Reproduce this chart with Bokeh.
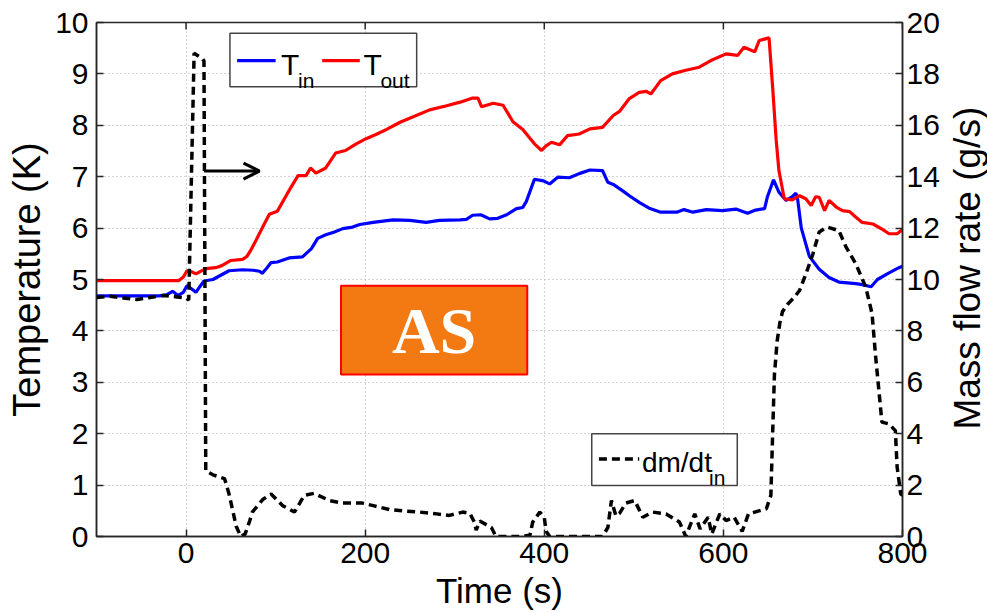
import math

from bokeh.plotting import figure
from bokeh.layouts import row
from bokeh.models import (Range1d, LinearAxis, FixedTicker, BoxAnnotation,
                          Label, Arrow, OpenHead)
from bokeh.embed import file_html
from bokeh.resources import INLINE

# ---- measured series -------------------------------------------------------
# inlet temperature T_in (K)
time_in = [-100, -60, -30, -22, -15, -9, -3, 1, 6, 11, 15, 20, 30, 48, 63, 75,
           82, 85, 90, 95, 102, 115, 130, 140, 147, 156, 165, 175, 186, 194,
           209, 231, 250, 268, 283, 306, 313, 320, 329, 339, 348, 358, 369,
           376, 380, 389, 399, 406, 415, 428, 439, 451, 465, 471, 477, 488,
           495, 506, 518, 530, 548, 556, 566, 581, 599, 614, 627, 636, 646,
           649, 656, 662, 670, 677, 681, 683, 687, 696, 707, 718, 729, 748,
           755, 765, 772, 785, 796, 800]
temp_in = [4.68, 4.68, 4.68, 4.70, 4.77, 4.69, 4.75, 4.88, 4.82, 4.75, 4.85,
           4.97, 5.00, 5.17, 5.19, 5.18, 5.16, 5.12, 5.22, 5.33, 5.34, 5.42,
           5.44, 5.60, 5.80, 5.87, 5.92, 5.99, 6.02, 6.07, 6.11, 6.16, 6.15,
           6.11, 6.15, 6.16, 6.17, 6.25, 6.26, 6.18, 6.19, 6.26, 6.38, 6.40,
           6.52, 6.95, 6.92, 6.86, 6.99, 6.98, 7.06, 7.13, 7.12, 6.89, 6.85,
           6.72, 6.63, 6.50, 6.38, 6.31, 6.31, 6.36, 6.31, 6.36, 6.34, 6.37,
           6.29, 6.35, 6.38, 6.60, 6.94, 6.70, 6.54, 6.61, 6.68, 6.55, 6.00,
           5.45, 5.20, 5.04, 4.95, 4.92, 4.90, 4.86, 5.00, 5.13, 5.23, 5.26]

# outlet temperature T_out (K)
time_out = [-100, -50, -8, -3, 1, 6, 11, 22, 33, 40, 50, 63, 68, 72, 78, 85,
            93, 102, 113, 125, 134, 139, 145, 156, 167, 178, 190, 201, 212,
            224, 239, 253, 272, 291, 306, 320, 326, 330, 343, 354, 365, 376,
            389, 397, 402, 408, 417, 426, 439, 451, 465, 477, 484, 495, 506,
            514, 519, 530, 543, 558, 573, 586, 603, 616, 623, 635, 640, 651,
            655, 659, 662, 668, 677, 685, 692, 698, 703, 707, 713, 718, 726,
            733, 741, 748, 755, 767, 778, 785, 794, 800]
temp_out = [4.98, 4.98, 4.98, 5.05, 5.17, 5.15, 5.11, 5.21, 5.23, 5.27, 5.37,
            5.39, 5.45, 5.56, 5.76, 6.00, 6.27, 6.33, 6.67, 7.02, 7.02, 7.17,
            7.07, 7.17, 7.46, 7.51, 7.64, 7.74, 7.82, 7.92, 8.06, 8.16, 8.30,
            8.38, 8.45, 8.53, 8.53, 8.36, 8.43, 8.39, 8.07, 7.92, 7.64, 7.51,
            7.60, 7.67, 7.62, 7.80, 7.83, 7.93, 7.96, 8.19, 8.27, 8.52, 8.64,
            8.66, 8.61, 8.87, 9.00, 9.07, 9.13, 9.26, 9.39, 9.36, 9.52, 9.43,
            9.65, 9.70, 8.74, 7.70, 7.12, 6.57, 6.55, 6.63, 6.57, 6.44, 6.61,
            6.60, 6.34, 6.54, 6.41, 6.34, 6.32, 6.21, 6.11, 6.08, 5.97, 5.89,
            5.89, 5.97]

# inlet mass flow rate dm/dt_in (g/s)
time_flow = [-100, -85, -70, -55, -40, -25, -10, 0, 3, 9, 18, 20, 22, 30, 43,
             48, 56, 61, 66, 71, 74, 86, 95, 108, 121, 132, 143, 160, 175,
             197, 209, 227, 242, 261, 280, 294, 309, 317, 322, 324, 328, 341,
             346, 372, 384, 387, 395, 400, 402, 406, 465, 471, 475, 480, 484,
             491, 501, 510, 521, 536, 551, 558, 568, 574, 583, 587, 596, 603,
             612, 621, 628, 648, 653, 655, 657, 660, 663, 666, 672, 679, 685,
             692, 700, 707, 716, 729, 737, 748, 759, 766, 770, 774, 777, 785,
             792, 794, 798, 800]
mass_flow = [9.30, 9.35, 9.28, 9.22, 9.30, 9.38, 9.32, 9.28, 9.20, 18.80,
             18.60, 18.50, 2.55, 2.40, 2.25, 1.65, 0.40, 0.00, 0.10, 0.60,
             0.95, 1.45, 1.65, 1.20, 0.95, 1.60, 1.68, 1.40, 1.30, 1.30, 1.20,
             1.05, 1.00, 0.95, 0.88, 0.82, 0.95, 0.90, 0.55, 0.25, 0.60, 0.35,
             0.00, 0.00, 0.05, 0.55, 0.95, 0.75, 0.20, 0.00, 0.00, 0.35, 1.40,
             0.80, 0.90, 1.30, 1.40, 0.75, 0.95, 0.88, 0.56, 0.00, 0.88, 0.30,
             0.75, 0.10, 0.88, 0.62, 0.75, 0.20, 0.88, 1.08, 1.60, 4.00, 6.30,
             7.60, 8.30, 8.75, 9.05, 9.30, 9.57, 10.20, 11.00, 11.85, 12.04,
             11.90, 11.26, 10.60, 9.70, 8.67, 7.00, 5.55, 4.45, 4.38, 4.12,
             2.70, 1.66, 1.60]

x_ticks = [0, 200, 400, 600, 800]
temp_ticks = [0, 1, 2, 3, 4, 5, 6, 7, 8, 9, 10]
flow_ticks = [0, 2, 4, 6, 8, 10, 12, 14, 16, 18, 20]

FONT = "Liberation Sans"
AXIS_COLOR = "#262626"

p = figure(width=942, height=613, output_backend="svg", toolbar_location=None,
           x_range=Range1d(-100, 800), y_range=Range1d(0, 10),
           min_border_left=96, min_border_right=39, min_border_top=22,
           min_border_bottom=77, background_fill_color="white",
           border_fill_color="white")
p.outline_line_color = AXIS_COLOR
p.outline_line_width = 1.5

p.extra_y_ranges = {"flow": Range1d(0, 20)}


def style_axis(ax, ticks):
    ax.ticker = FixedTicker(ticks=ticks)
    ax.minor_tick_line_color = None
    ax.major_tick_in = 7
    ax.major_tick_out = 0
    ax.major_tick_line_color = AXIS_COLOR
    ax.major_tick_line_width = 1.5
    ax.axis_line_color = AXIS_COLOR
    ax.axis_line_width = 1.5
    ax.major_label_text_font = FONT
    ax.major_label_text_font_size = "30px"
    ax.major_label_text_color = "black"
    ax.axis_label_text_font = FONT
    ax.axis_label_text_font_style = "normal"
    ax.axis_label_text_color = "black"


# bottom axis
style_axis(p.xaxis[0], x_ticks)
p.xaxis[0].axis_label = "Time (s)"
p.xaxis[0].axis_label_text_font_size = "35px"
p.xaxis[0].major_label_standoff = 6
p.xaxis[0].axis_label_standoff = 5

# left axis
style_axis(p.yaxis[0], temp_ticks)
p.yaxis[0].axis_label = "Temperature (K)"
p.yaxis[0].axis_label_text_font_size = "38px"
p.yaxis[0].major_label_standoff = 8
p.yaxis[0].axis_label_standoff = 4

# right axis for the mass flow rate
ax_r = LinearAxis(y_range_name="flow")
style_axis(ax_r, flow_ticks)
ax_r.major_label_standoff = 4
p.add_layout(ax_r, "right")

# dotted grid
for g in (p.xgrid[0], p.ygrid[0]):
    g.grid_line_color = "#a8a8a8"
    g.grid_line_dash = "1 3"
    g.grid_line_width = 1
p.xgrid[0].ticker = FixedTicker(ticks=x_ticks)
p.ygrid[0].ticker = FixedTicker(ticks=temp_ticks)

# tick marks along the top edge of the box
p.segment(x0=x_ticks, y0=[10] * len(x_ticks), x1=x_ticks,
          y1=[9.865] * len(x_ticks), line_color=AXIS_COLOR, line_width=1.5)

# curves
p.line(time_in, temp_in, line_color="#0000ff", line_width=3.2)
p.line(time_out, temp_out, line_color="#ff0000", line_width=3.2)
p.line(time_flow, mass_flow, y_range_name="flow", line_color="black",
       line_width=3.5, line_dash="8 5")

# arrow pointing to the right-hand axis
p.add_layout(Arrow(end=OpenHead(size=16, line_width=3, line_color="black"),
                   x_start=20, y_start=7.11, x_end=82, y_end=7.11,
                   line_width=3, line_color="black"))

# "AS" tag
p.add_layout(BoxAnnotation(left=173, right=381, bottom=3.15, top=4.88,
                           fill_color="#f37a12", fill_alpha=1.0,
                           line_color="#ff0000", line_width=2, line_alpha=1.0))
p.add_layout(Label(x=277, y=4.0, text="AS", text_font="Liberation Serif",
                   text_font_style="bold", text_font_size="66px",
                   text_color="white", text_align="center",
                   text_baseline="middle"))

# temperature legend
p.add_layout(BoxAnnotation(left=49, right=257.5, bottom=8.75, top=9.79,
                           fill_color="white", fill_alpha=1.0,
                           line_color="#444444", line_width=1.5,
                           line_alpha=1.0))
key_in = p.line([57, 100], [9.26, 9.26], line_color="#0000ff", line_width=3.2)
key_out = p.line([152, 194], [9.26, 9.26], line_color="#ff0000", line_width=3.2)
for x, y, txt, size in [(106, 9.18, "T", "30px"), (125, 8.87, "in", "21px"),
                        (198, 9.18, "T", "30px"), (217, 8.87, "out", "21px")]:
    p.add_layout(Label(x=x, y=y, text=txt, text_font=FONT,
                       text_font_size=size, text_color="black",
                       text_baseline="alphabetic"))

# flow legend
p.add_layout(BoxAnnotation(left=453, right=615.5, bottom=0.99, top=2.0,
                           fill_color="white", fill_alpha=1.0,
                           line_color="#444444", line_width=1.5,
                           line_alpha=1.0))
key_flow = p.line([461, 506], [1.51, 1.51], line_color="black",
                  line_width=3.5, line_dash="8 5")
for r in (key_in, key_out, key_flow):
    r.level = "overlay"
for x, y, txt, size in [(509, 1.43, "dm/dt", "28px"), (584, 1.15, "in", "21px")]:
    p.add_layout(Label(x=x, y=y, text=txt, text_font=FONT,
                       text_font_size=size, text_color="black",
                       text_baseline="alphabetic"))

# narrow strip holding the right-hand title, reading bottom to top
strip = figure(width=45, height=613, output_backend="svg",
               toolbar_location=None, x_range=Range1d(0, 1),
               y_range=Range1d(0, 613), x_axis_location=None,
               y_axis_location=None, min_border=0, outline_line_color=None,
               background_fill_color="white", border_fill_color="white")
strip.grid.visible = False
strip.add_layout(Label(x=0.55, y=320, text="Mass flow rate (g/s)",
                       angle=math.pi / 2, text_font=FONT,
                       text_font_size="37px", text_color="black",
                       text_align="center", text_baseline="middle"))

layout = row(p, strip, spacing=0)
open("out.html", "w").write(file_html(layout, INLINE))
